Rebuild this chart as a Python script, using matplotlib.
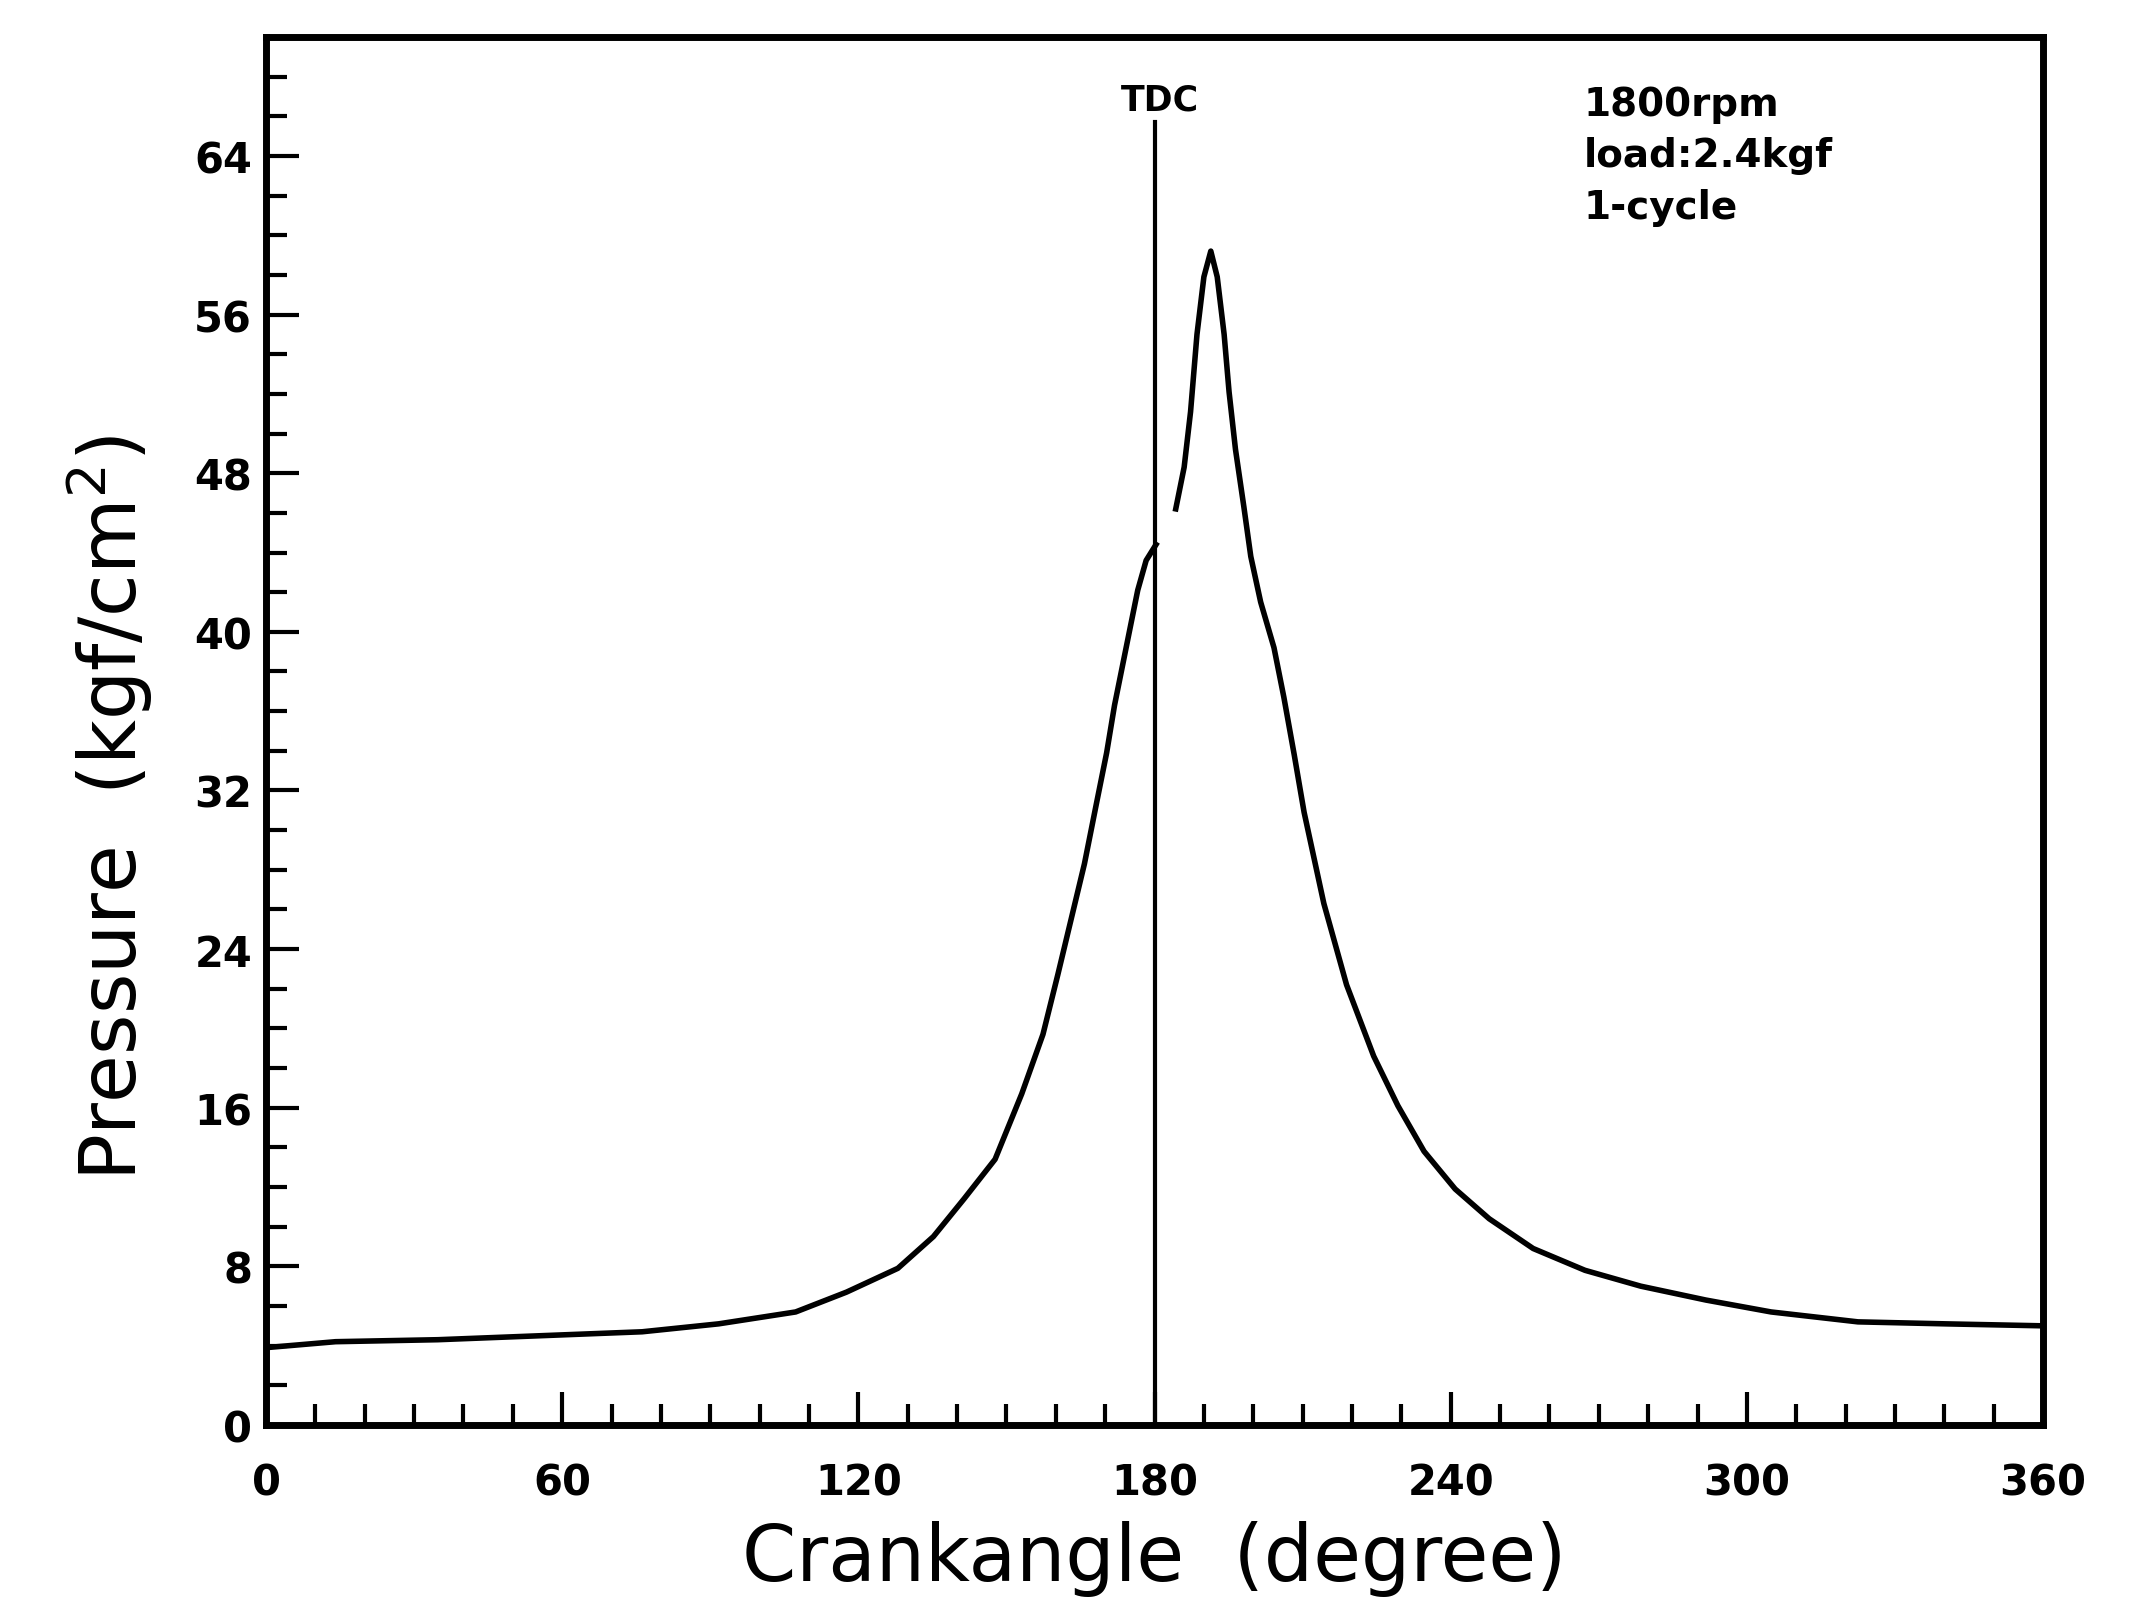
import numpy as np
import matplotlib.pyplot as plt
from matplotlib.ticker import MultipleLocator

# Kurbelwinkel [deg] und Druck [kgf/cm2]
# Kompression bis TDC
angle_comp = [0, 14.1, 34.8, 55.5, 76.2, 91.7, 107.3, 117.6, 128.0, 135.2,
              141.4, 147.7, 153.1, 157.4, 160.4, 163.1, 165.8, 168.2,
              170.3, 171.9, 173.6, 175.3, 176.6, 178.3, 180.3]
p_comp = [3.9, 4.2, 4.3, 4.5, 4.7, 5.1, 5.7, 6.7, 7.9, 9.5,
          11.4, 13.4, 16.7, 19.7, 22.7, 25.5, 28.3, 31.3,
          33.9, 36.3, 38.4, 40.5, 42.1, 43.6, 44.4]

# Verbrennung / Expansion nach TDC
angle_exp = [184.3, 186.0, 187.3, 188.6, 190.0, 191.4, 192.7, 194.1, 195.1,
             196.4, 198.1, 199.5, 201.5, 204.2, 206.2, 208.3, 210.3, 214.3,
             218.9, 224.4, 229.3, 234.6, 240.9, 247.8, 256.7, 267.2, 278.5,
             291.7, 304.9, 322.5, 340.2, 360.0]
p_exp = [46.2, 48.3, 51.1, 55.0, 57.9, 59.2, 57.9, 55.0, 52.1,
         49.2, 46.3, 43.8, 41.5, 39.2, 36.7, 33.8, 30.9, 26.3,
         22.2, 18.6, 16.1, 13.8, 11.9, 10.4, 8.9, 7.8, 7.0,
         6.3, 5.7, 5.2, 5.1, 5.0]

tdc_angle = 180
tdc_top = 65.7
info_lines = ["1800rpm", "load:2.4kgf", "1-cycle"]

fig = plt.figure(figsize=(21.4, 16.08), dpi=100)
ax = fig.add_axes([0.1243, 0.1132, 0.8304, 0.8632])

ax.plot(angle_comp, p_comp, color="black", lw=4, solid_joinstyle="round")
ax.plot(angle_exp, p_exp, color="black", lw=4, solid_joinstyle="round")
ax.plot([tdc_angle, tdc_angle], [0, tdc_top], color="black", lw=3)
ax.text(tdc_angle + 1, tdc_top + 0.3, "TDC", ha="center", va="bottom",
        fontsize=25, fontweight="bold")
ax.text(267, 67.6, "\n".join(info_lines), ha="left", va="top",
        fontsize=28, fontweight="bold", linespacing=1.45)

ax.set_xlim(0, 360)
ax.set_ylim(0, 70)
ax.xaxis.set_major_locator(MultipleLocator(60))
ax.xaxis.set_minor_locator(MultipleLocator(10))
ax.yaxis.set_major_locator(MultipleLocator(8))
ax.yaxis.set_minor_locator(MultipleLocator(2))

ax.tick_params(which="major", direction="in", length=24, width=3,
               labelsize=30)
ax.tick_params(which="minor", direction="in", length=15, width=3)
ax.tick_params(axis="x", which="major", pad=26)
ax.tick_params(axis="y", which="major", pad=10)
for lab in ax.get_xticklabels() + ax.get_yticklabels():
    lab.set_fontweight("bold")

for sp in ax.spines.values():
    sp.set_linewidth(5)

ax.set_xlabel("Crankangle  (degree)", fontsize=56, labelpad=12)
ax.set_ylabel("Pressure  (kgf/cm$^2$)", fontsize=56, labelpad=28)
ax.yaxis.label.set_y(0.445)

fig.savefig("out.png", dpi=100, facecolor="white")
